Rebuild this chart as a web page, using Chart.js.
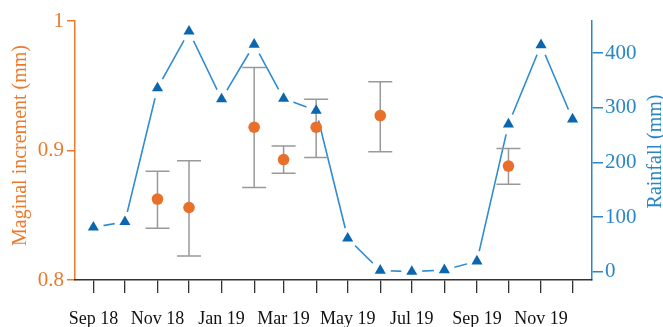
<!DOCTYPE html>
<html>
<head>
<meta charset="utf-8">
<script src="https://cdn.jsdelivr.net/npm/chart.js@4.4.1/dist/chart.umd.min.js"></script>
<style>
  html, body { margin: 0; padding: 0; background: #fff; }
  #wrap { width: 663px; height: 327px; }
</style>
</head>
<body>
<div id="wrap"><canvas id="myChart" width="663" height="327"></canvas></div>
<script>
// monthly samples, Sep 2018 - Dec 2019
const months = ['Sep 18', 'Oct 18', 'Nov 18', 'Dec 18', 'Jan 19', 'Feb 19', 'Mar 19', 'Apr 19',
  'May 19', 'Jun 19', 'Jul 19', 'Aug 19', 'Sep 19', 'Oct 19', 'Nov 19', 'Dec 19'];
const labelledMonths = ['Sep 18', 'Nov 18', 'Jan 19', 'Mar 19', 'May 19', 'Jul 19', 'Sep 19', 'Nov 19'];

const rainfall = [81, 91, 336, 440, 316, 416, 317, 295, 61, 2, 0, 3, 19, 270, 415, 279];

// marginal increment mean and error range (null = no sample that month)
const incMean  = [null, null, 0.8625, 0.856, null, 0.918, 0.893, 0.918, null, 0.927, null, null, null, 0.888, null, null];
const incUpper = [null, null, 0.884, 0.892, null, 0.964, 0.9035, 0.9395, null, 0.953, null, null, null, 0.9015, null, null];
const incLower = [null, null, 0.840, 0.8185, null, 0.8715, 0.8825, 0.8945, null, 0.899, null, null, null, 0.874, null, null];

const incTicks = [0.8, 0.9, 1];
const rainTicks = [0, 100, 200, 300, 400];

const orange = '#ec7a2c';
const dotOrange = '#e8702a';
const blue = '#2a86c6';
const lineBlue = '#2f8cd0';
const triBlue = '#0a66ae';

const monthNames = ['Jan', 'Feb', 'Mar', 'Apr', 'May', 'Jun', 'Jul', 'Aug', 'Sep', 'Oct', 'Nov', 'Dec'];

// days since 1 Sep 2018, so the x axis runs on real time
function dayOf(label) {
  const parts = label.split(' ');
  const m = monthNames.indexOf(parts[0]);
  const y = 2000 + Number(parts[1]);
  return (Date.UTC(y, m, 1) - Date.UTC(2018, 8, 1)) / 86400000;
}

// cut the rainfall line open around each marker
const gapLine = {
  id: 'gapLine',
  afterDatasetDraw(chart, args) {
    if (args.index !== 0) return;
    const ctx = chart.ctx;
    ctx.save();
    ctx.globalCompositeOperation = 'destination-out';
    args.meta.data.forEach(p => {
      ctx.beginPath();
      ctx.arc(p.x, p.y, 10.5, 0, Math.PI * 2);
      ctx.fill();
    });
    ctx.restore();
  }
};

const errorBars = {
  id: 'errorBars',
  beforeDatasetDraw(chart, args) {
    if (args.index !== 1) return;
    const ctx = chart.ctx;
    const xs = chart.scales.x;
    const ys = chart.scales.yInc;
    ctx.save();
    ctx.strokeStyle = '#999999';
    ctx.lineWidth = 1.5;
    months.forEach((m, i) => {
      if (incMean[i] == null) return;
      const px = xs.getPixelForValue(dayOf(m));
      const top = ys.getPixelForValue(incUpper[i]);
      const bot = ys.getPixelForValue(incLower[i]);
      ctx.beginPath();
      ctx.moveTo(px, top); ctx.lineTo(px, bot);
      ctx.moveTo(px - 12, top); ctx.lineTo(px + 12, top);
      ctx.moveTo(px - 12, bot); ctx.lineTo(px + 12, bot);
      ctx.stroke();
    });
    ctx.restore();
  }
};

// both axis titles read bottom to top
const axisTitles = {
  id: 'axisTitles',
  afterDraw(chart) {
    const ctx = chart.ctx;
    const area = chart.chartArea;
    const mid = (area.top + area.bottom) / 2;
    ctx.save();
    ctx.font = '20px "Liberation Serif"';
    ctx.textAlign = 'center';
    ctx.textBaseline = 'alphabetic';

    ctx.save();
    ctx.fillStyle = orange;
    ctx.translate(26, mid - 5);
    ctx.rotate(-Math.PI / 2);
    ctx.fillText('Maginal increment (mm)', 0, 0);
    ctx.restore();

    ctx.save();
    ctx.fillStyle = blue;
    ctx.translate(chart.width - 2, mid + 1);
    ctx.rotate(-Math.PI / 2);
    ctx.fillText('Rainfall (mm)', 0, 0);
    ctx.restore();

    ctx.restore();
  }
};

Chart.defaults.font.family = '"Liberation Serif", "Times New Roman", serif';

const ctx = document.getElementById('myChart');
new Chart(ctx, {
  type: 'line',
  data: {
    datasets: [
      {
        label: 'Rainfall line',
        data: rainfall.map((v, i) => ({ x: dayOf(months[i]), y: v })),
        yAxisID: 'yRain',
        borderColor: lineBlue,
        borderWidth: 1.6,
        pointRadius: 0,
        tension: 0,
        order: 2
      },
      {
        label: 'Marginal increment',
        type: 'scatter',
        data: incMean.map((v, i) => ({ x: dayOf(months[i]), y: v })),
        yAxisID: 'yInc',
        backgroundColor: dotOrange,
        borderWidth: 0,
        pointRadius: 5.8,
        order: 1
      },
      {
        label: 'Rainfall',
        type: 'scatter',
        data: rainfall.map((v, i) => ({ x: dayOf(months[i]), y: v })),
        yAxisID: 'yRain',
        pointStyle: 'triangle',
        backgroundColor: triBlue,
        borderWidth: 0,
        pointRadius: 6.4,
        order: 0
      }
    ]
  },
  options: {
    responsive: false,
    animation: false,
    devicePixelRatio: 1,
    layout: { padding: { top: 21, left: 0, right: 0, bottom: 0 } },
    plugins: {
      legend: { display: false },
      tooltip: { enabled: false }
    },
    scales: {
      x: {
        type: 'linear',
        min: -17.5,
        max: 474.5,
        afterFit: s => { s.height = 47; },
        afterBuildTicks: s => { s.ticks = months.map(m => ({ value: dayOf(m) })); },
        ticks: {
          autoSkip: false,
          maxRotation: 0,
          padding: 15,
          color: '#111',
          font: { size: 18 },
          callback: (v, i) => labelledMonths.includes(months[i]) ? months[i] : ''
        },
        grid: { drawOnChartArea: false, drawTicks: true, tickLength: 13, color: '#333', lineWidth: 1.3, z: 1 },
        border: { display: true, color: '#333', width: 1.5, z: 1 }
      },
      yInc: {
        type: 'linear',
        position: 'left',
        min: 0.8,
        max: 1,
        afterFit: s => { s.width = 75; },
        afterBuildTicks: s => { s.ticks = incTicks.map(v => ({ value: v })); },
        ticks: {
          padding: 3,
          color: orange,
          font: { size: 21 },
          callback: v => String(v)
        },
        grid: { drawOnChartArea: false, drawTicks: true, tickLength: 8, color: orange, lineWidth: 1.5 },
        border: { display: true, color: orange, width: 1.5 }
      },
      yRain: {
        type: 'linear',
        position: 'right',
        min: -15.4,
        max: 459,
        afterFit: s => { s.width = 71; },
        afterBuildTicks: s => { s.ticks = rainTicks.map(v => ({ value: v })); },
        ticks: {
          padding: 2,
          color: blue,
          font: { size: 21 },
          callback: v => String(v)
        },
        grid: { drawOnChartArea: false, drawTicks: true, tickLength: 11, color: blue, lineWidth: 1.5 },
        border: { display: true, color: blue, width: 1.5 }
      }
    }
  },
  plugins: [gapLine, errorBars, axisTitles]
});
</script>
</body>
</html>
